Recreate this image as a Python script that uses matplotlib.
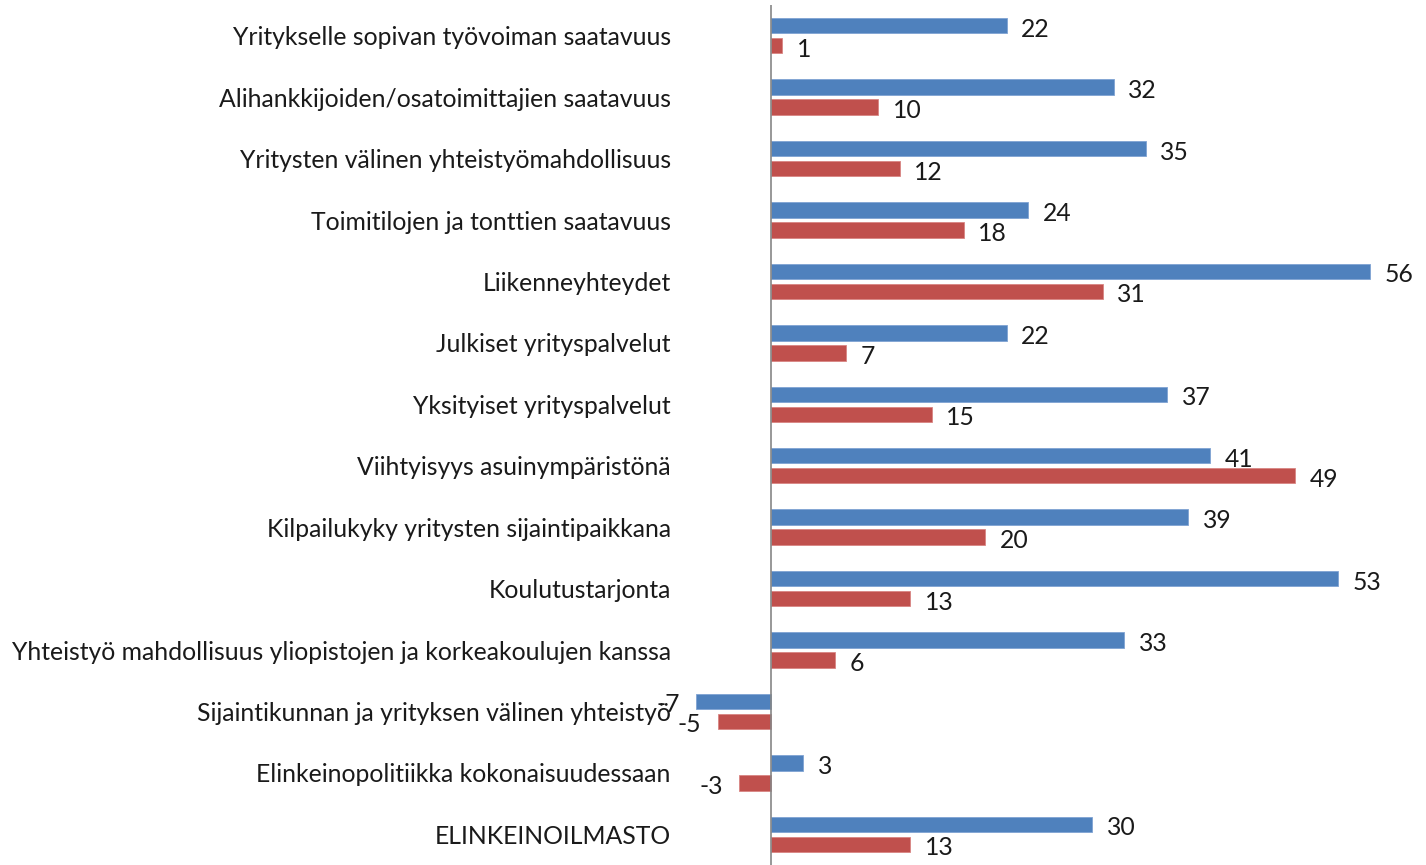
import numpy as np
import matplotlib
matplotlib.use("Agg")
import matplotlib.pyplot as plt

categories = [
    "Yritykselle sopivan työvoiman saatavuus",
    "Alihankkijoiden/osatoimittajien saatavuus",
    "Yritysten välinen yhteistyömahdollisuus",
    "Toimitilojen ja tonttien saatavuus",
    "Liikenneyhteydet",
    "Julkiset yrityspalvelut",
    "Yksityiset yrityspalvelut",
    "Viihtyisyys asuinympäristönä",
    "Kilpailukyky yritysten sijaintipaikkana",
    "Koulutustarjonta",
    "Yhteistyö mahdollisuus yliopistojen ja korkeakoulujen kanssa",
    "Sijaintikunnan ja yrityksen välinen yhteistyö",
    "Elinkeinopolitiikka kokonaisuudessaan",
    "ELINKEINOILMASTO",
]
blue_vals = [22, 32, 35, 24, 56, 22, 37, 41, 39, 53, 33, -7, 3, 30]
red_vals = [1, 10, 12, 18, 31, 7, 15, 49, 20, 13, 6, -5, -3, 13]

BLUE = "#4F81BD"
RED = "#C0504D"
FONT = "Lato"
FS = 17.8

fig = plt.figure(figsize=(14.26, 8.65), dpi=100)
ax = fig.add_axes([675 / 1426, 0, (1413 - 675) / 1426, 860 / 865])

y = np.arange(len(categories))
off = 0.163
h = 0.25
ax.barh(y - off, blue_vals, height=h, color=BLUE, edgecolor="#7FA3D3", linewidth=0.6)
ax.barh(y + off, red_vals, height=h, color=RED, edgecolor="#D98583", linewidth=0.6)

for vals, dy in ((blue_vals, -off), (red_vals, off)):
    for yi, v in zip(y, vals):
        if v >= 0:
            ax.annotate(str(v), (v, yi + dy), xytext=(10.5, -2.5), textcoords="offset points",
                        ha="left", va="center", fontsize=FS, family=FONT, color="#1a1a1a")
        else:
            ax.annotate(str(v), (v, yi + dy), xytext=(-12, -2.5), textcoords="offset points",
                        ha="right", va="center", fontsize=FS, family=FONT, color="#1a1a1a")

ax.set_xlim(-9, 60)
ax.set_ylim(len(categories) - 0.5, -0.5)
ax.set_yticks(y)
ax.set_yticklabels(categories, fontsize=FS, family=FONT, color="#1a1a1a")
ax.tick_params(axis="y", length=0, pad=3)
ax.set_xticks([])
for s in ax.spines.values():
    s.set_visible(False)
ax.axvline(0, color="#868686", lw=1.2)

fig.savefig("out.png", dpi=100)
